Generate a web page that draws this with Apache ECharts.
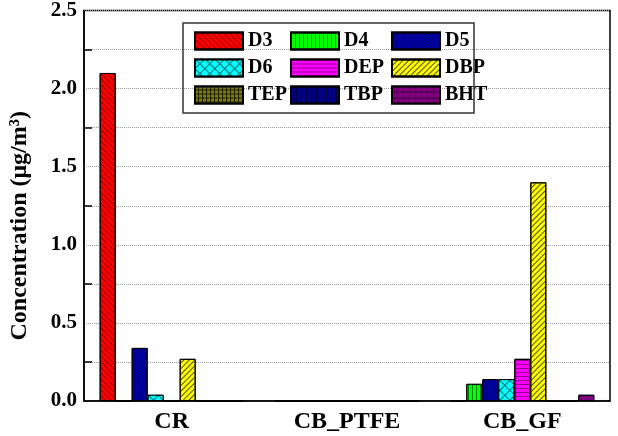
<!DOCTYPE html>
<html>
<head>
<meta charset="utf-8">
<script src="https://cdn.jsdelivr.net/npm/echarts@6/dist/echarts.min.js"></script>
<style>
  html, body { margin: 0; padding: 0; background: #fff; }
  #chart { width: 618px; height: 436px; }
</style>
</head>
<body>
<div id="chart"></div>
<script>
const categories = ['CR', 'CB_PTFE', 'CB_GF']
const seriesNames = ['D3', 'D4', 'D5', 'D6', 'DEP', 'DBP', 'TEP', 'TBP', 'BHT']
const D3 = [2.10, 0, 0]
const D4 = [0, 0, 0.11]
const D5 = [0.34, 0, 0.14]
const D6 = [0.04, 0, 0.14]
const DEP = [0, 0, 0.27]
const DBP = [0.27, 0, 1.40]
const TEP = [0, 0, 0]
const TBP = [0, 0, 0]
const BHT = [0, 0, 0.04]
const values = [D3, D4, D5, D6, DEP, DBP, TEP, TBP, BHT]

const font = 'Liberation Serif'

// fill colour + hatch decal per series
const styles = [
  { color: '#ff0000', decal: { color: '#a00000', dashArrayX: [1, 0], dashArrayY: [1, 3], rotation: Math.PI / 4 } },
  { color: '#00ff00', decal: { color: '#008000', dashArrayX: [1, 3], dashArrayY: [1, 0] } },
  { color: '#0000b0', decal: { color: '#000050', dashArrayX: [1, 1], dashArrayY: [1, 1], rotation: Math.PI / 4 } },
  { color: '#007070', decal: { color: '#00ffff', dashArrayX: [6, 1], dashArrayY: [6, 1], rotation: Math.PI / 4 } },
  { color: '#ff00ff', decal: { color: '#900090', dashArrayX: [1, 0], dashArrayY: [1, 3] } },
  { color: '#ffff00', decal: { color: '#505000', dashArrayX: [1, 0], dashArrayY: [1, 3], rotation: -Math.PI / 4 } },
  { color: '#202000', decal: { color: '#808000', dashArrayX: [3, 1], dashArrayY: [3, 1] } },
  { color: '#000080', decal: { color: '#000040', dashArrayX: [1, 4], dashArrayY: [1, 0] } },
  { color: '#300030', decal: { color: '#800080', dashArrayX: [5, 1], dashArrayY: [5, 1] } }
]

const legendCols = [
  { left: 189, data: ['D3', 'D6', 'TEP'] },
  { left: 285, data: ['D4', 'DEP', 'TBP'] },
  { left: 386, data: ['D5', 'DBP', 'BHT'] }
]

const chart = echarts.init(document.getElementById('chart'))
chart.setOption({
  animation: false,
  grid: {
    left: 83, right: 8, top: 7, bottom: 35,
    show: true, borderColor: '#000', borderWidth: 1.5
  },
  legend: legendCols.map(c => ({
    orient: 'vertical',
    left: c.left,
    top: 26,
    icon: 'rect',
    itemWidth: 48,
    itemHeight: 17,
    itemGap: 7,
    data: c.data,
    selectedMode: false,
    textStyle: { fontFamily: font, fontWeight: 'bold', fontSize: 20, color: '#000' }
  })),
  graphic: [{
    type: 'rect',
    shape: { x: 183, y: 23, width: 291, height: 90 },
    style: { fill: 'none', stroke: '#333', lineWidth: 1.5 },
    z: 100
  }],
  xAxis: {
    type: 'category',
    data: categories,
    axisLine: { lineStyle: { color: '#000', width: 1.5 } },
    axisTick: { inside: true, length: 6, lineStyle: { color: '#000' } },
    axisLabel: { fontFamily: font, fontWeight: 'bold', fontSize: 24, color: '#000', margin: 9 }
  },
  yAxis: {
    type: 'value',
    min: 0,
    max: 2.5,
    interval: 0.5,
    name: 'Concentration (μg/m³)',
    nameLocation: 'middle',
    nameGap: 52,
    nameTextStyle: { fontFamily: font, fontWeight: 'bold', fontSize: 24, color: '#000', padding: [0, 40, 0, 0] },
    axisLine: { show: true, lineStyle: { color: '#000', width: 1.5 } },
    axisTick: { inside: true, length: 8, lineStyle: { color: '#000', width: 1.5 } },
    minorTick: { show: true, splitNumber: 2, length: 8, lineStyle: { color: '#000', width: 1.5 } },
    axisLabel: {
      fontFamily: font, fontWeight: 'bold', fontSize: 21, color: '#000', margin: 7,
      formatter: v => v.toFixed(1)
    },
    splitLine: { show: true, lineStyle: { color: '#999', type: 'dotted' } },
    minorSplitLine: { show: true, lineStyle: { color: '#999', type: 'dotted' } }
  },
  series: seriesNames.map((name, i) => ({
    name: name,
    type: 'bar',
    data: values[i],
    barWidth: 16,
    barGap: '0%',
    itemStyle: {
      color: styles[i].color,
      decal: styles[i].decal,
      borderColor: '#000',
      borderWidth: 1
    }
  }))
})
</script>
</body>
</html>
